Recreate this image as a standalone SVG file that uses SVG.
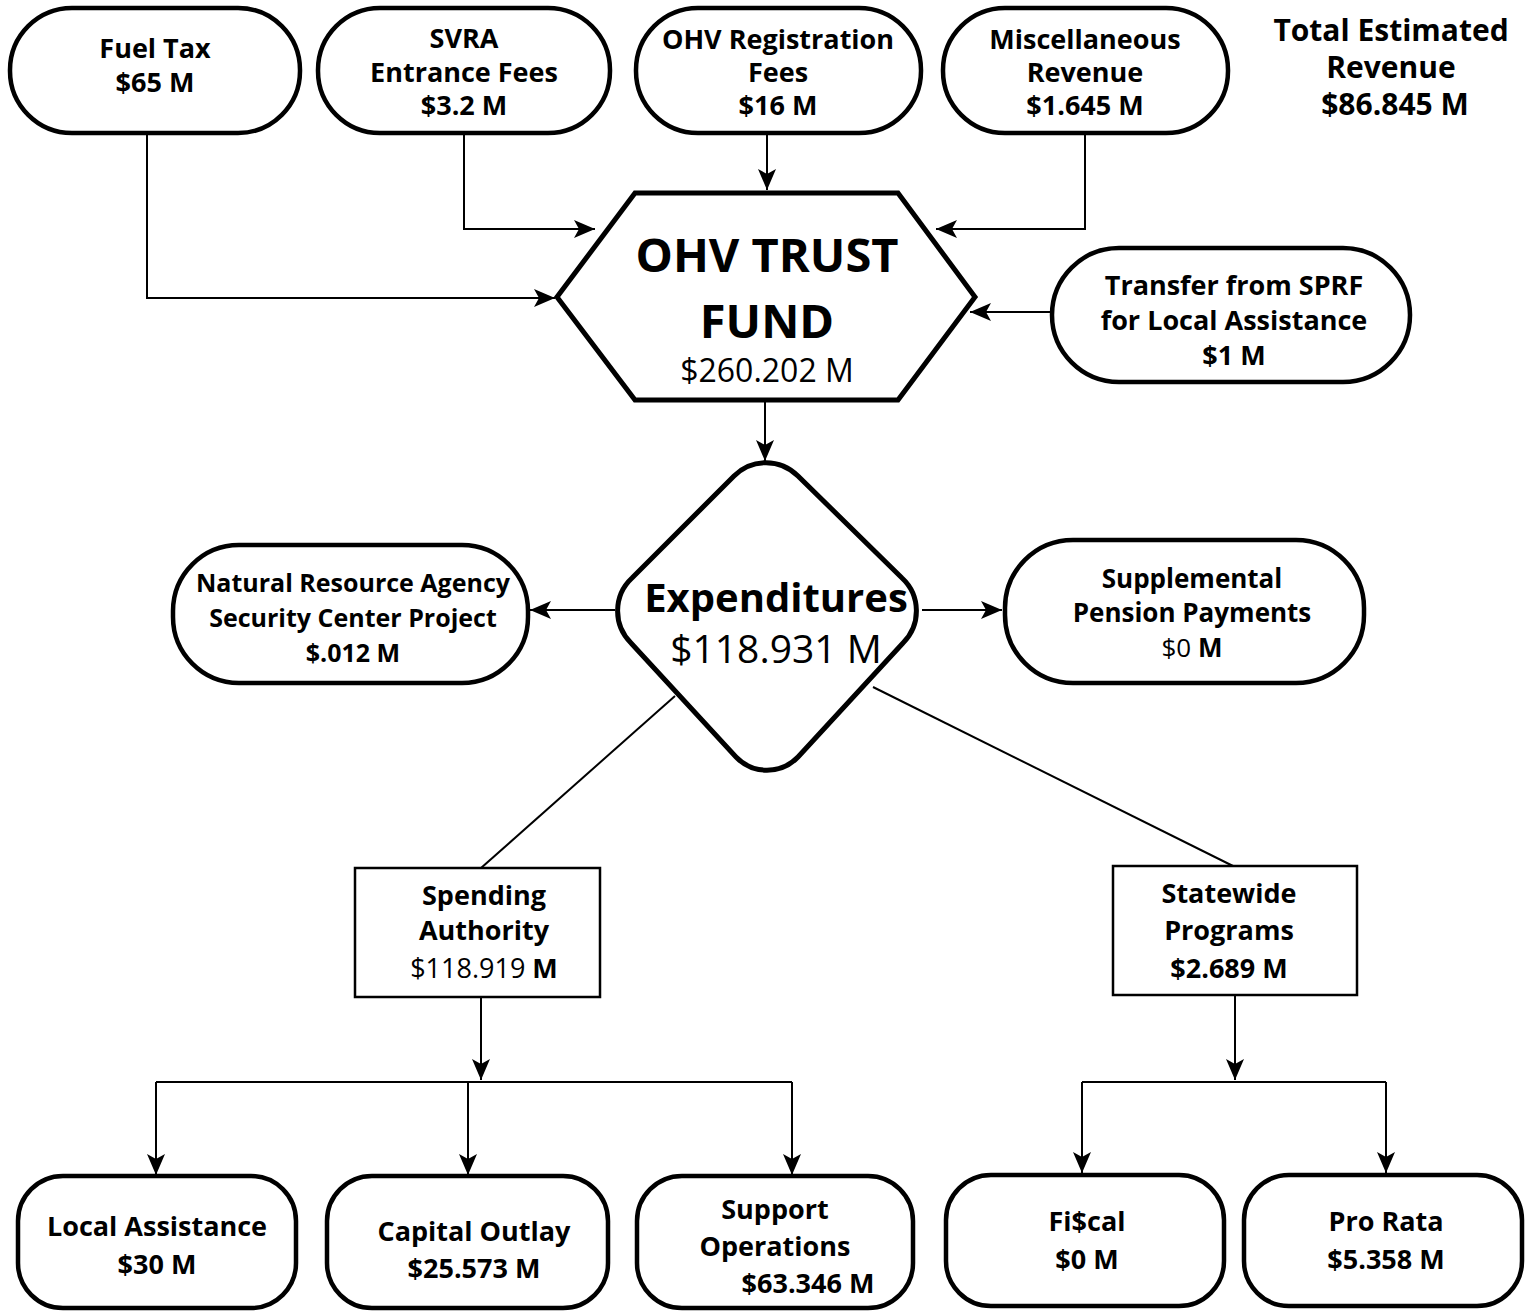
<svg xmlns="http://www.w3.org/2000/svg" width="1538" height="1314" viewBox="0 0 1538 1314">
<defs>
<marker id="arr" markerWidth="24" markerHeight="20" refX="21" refY="9" orient="auto" markerUnits="userSpaceOnUse">
<path d="M0,0 L21,9 L0,18 L5,9 Z" fill="#000"/>
</marker>
<style>
.pill{fill:#fff;stroke:#000;stroke-width:4.5}
.box{fill:#fff;stroke:#000;stroke-width:2.5}
.c{fill:none;stroke:#000;stroke-width:2}
.a{marker-end:url(#arr)}
text{font-family:"Open Sans","Noto Sans","Liberation Sans",sans-serif;text-anchor:middle;fill:#000}
.b{font-weight:700;font-size:27px}
.r{font-weight:400}
</style>
</defs>
<rect width="1538" height="1314" fill="#fff"/>
<g id="connectors">
<polyline class="c a" points="147,133 147,298 555,298"/>
<polyline class="c a" points="464,133 464,229 595,229"/>
<polyline class="c a" points="767,133 767,190"/>
<polyline class="c a" points="1085,133 1085,229 936,229"/>
<polyline class="c a" points="1052,312 970,312"/>
<polyline class="c a" points="765,400 765,461"/>
<polyline class="c a" points="615,610 530,610"/>
<polyline class="c a" points="922,610 1002,610"/>
<line class="c" x1="675" y1="696" x2="481" y2="868"/>
<line class="c" x1="873" y1="687" x2="1233" y2="866"/>
<polyline class="c a" points="481,997 481,1080"/>
<polyline class="c" points="156,1082 792,1082"/>
<polyline class="c a" points="156,1082 156,1175"/>
<polyline class="c a" points="468,1082 468,1175"/>
<polyline class="c a" points="792,1082 792,1175"/>
<polyline class="c a" points="1235,995 1235,1080"/>
<polyline class="c" points="1082,1082 1386,1082"/>
<polyline class="c a" points="1082,1082 1082,1173"/>
<polyline class="c a" points="1386,1082 1386,1173"/>
</g>
<g id="fuel-tax">
<rect class="pill" x="10" y="8" width="290" height="125" rx="62" ry="62"/>
<text class="b" x="155" y="58">Fuel Tax</text>
<text class="b" x="155" y="92">$65 M</text>
</g>
<g id="svra">
<rect class="pill" x="318" y="8" width="292" height="125" rx="62" ry="62"/>
<text class="b" x="464" y="48">SVRA</text>
<text class="b" x="464" y="82">Entrance Fees</text>
<text class="b" x="464" y="115">$3.2 M</text>
</g>
<g id="ohv-reg">
<rect class="pill" x="636" y="8" width="285" height="125" rx="62" ry="62"/>
<text class="b" x="778" y="49">OHV Registration</text>
<text class="b" x="778" y="82">Fees</text>
<text class="b" x="778" y="115">$16 M</text>
</g>
<g id="misc">
<rect class="pill" x="943" y="8" width="285" height="125" rx="62" ry="62"/>
<text class="b" x="1085" y="49">Miscellaneous</text>
<text class="b" x="1085" y="82">Revenue</text>
<text class="b" x="1085" y="115">$1.645 M</text>
</g>
<g id="total">
<text class="b" x="1391" y="41" style="font-size:30px">Total Estimated</text>
<text class="b" x="1391" y="78" style="font-size:30px">Revenue</text>
<text class="b" x="1395" y="115" style="font-size:30px">$86.845 M</text>
</g>
<g id="trust-fund">
<polygon points="635,193 898,193 975,297 898,400 635,400 557,297" fill="#fff" stroke="#000" stroke-width="5"/>
<text class="b" x="767" y="272" style="font-size:47px">OHV TRUST</text>
<text class="b" x="767" y="338" style="font-size:47px">FUND</text>
<text class="r" x="767" y="382" style="font-size:32px">$260.202 M</text>
</g>
<g id="transfer">
<rect class="pill" x="1052" y="248" width="358" height="134" rx="67" ry="67"/>
<text class="b" x="1234" y="295">Transfer from SPRF</text>
<text class="b" x="1234" y="330">for Local Assistance</text>
<text class="b" x="1234" y="365">$1 M</text>
</g>
<g id="expenditures">
<path d="M734,476 A45,45 0 0 1 798,476 L902,578 A45,45 0 0 1 903,643 L798,757 A43,43 0 0 1 736,757 L631,643 A45,45 0 0 1 632,578 Z" fill="#fff" stroke="#000" stroke-width="5"/>
<text class="b" x="776" y="612" style="font-size:40px">Expenditures</text>
<text class="r" x="776" y="663" style="font-size:39px">$118.931 M</text>
</g>
<g id="nra">
<rect class="pill" x="173" y="545" width="355" height="138" rx="66" ry="66"/>
<text class="b" x="353" y="592" style="font-size:25px">Natural Resource Agency</text>
<text class="b" x="353" y="627" style="font-size:25px">Security Center Project</text>
<text class="b" x="353" y="662" style="font-size:25px">$.012 M</text>
</g>
<g id="pension">
<rect class="pill" x="1005" y="540" width="359" height="143" rx="68" ry="68"/>
<text class="b" x="1192" y="588" style="font-size:26px">Supplemental</text>
<text class="b" x="1192" y="622" style="font-size:26px">Pension Payments</text>
<text class="b" x="1192" y="657" style="font-size:26px"><tspan class="r">$0</tspan> M</text>
</g>
<g id="spending">
<rect class="box" x="355" y="868" width="245" height="129"/>
<text class="b" x="484" y="905">Spending</text>
<text class="b" x="484" y="940">Authority</text>
<text class="b" x="484" y="978"><tspan class="r">$118.919</tspan> M</text>
</g>
<g id="statewide">
<rect class="box" x="1113" y="866" width="244" height="129"/>
<text class="b" x="1229" y="903">Statewide</text>
<text class="b" x="1229" y="940">Programs</text>
<text class="b" x="1229" y="978">$2.689 M</text>
</g>
<g id="local">
<rect class="pill" x="18" y="1176" width="278" height="132" rx="45" ry="45"/>
<text class="b" x="157" y="1236">Local Assistance</text>
<text class="b" x="157" y="1274">$30 M</text>
</g>
<g id="capital">
<rect class="pill" x="327" y="1176" width="281" height="132" rx="45" ry="45"/>
<text class="b" x="474" y="1241">Capital Outlay</text>
<text class="b" x="474" y="1278">$25.573 M</text>
</g>
<g id="support">
<rect class="pill" x="637" y="1176" width="276" height="132" rx="45" ry="45"/>
<text class="b" x="775" y="1219">Support</text>
<text class="b" x="775" y="1256">Operations</text>
<text class="b" x="808" y="1293">$63.346 M</text>
</g>
<g id="fiscal">
<rect class="pill" x="946" y="1175" width="278" height="131" rx="45" ry="45"/>
<text class="b" x="1087" y="1231">Fi$cal</text>
<text class="b" x="1087" y="1269">$0 M</text>
</g>
<g id="pro-rata">
<rect class="pill" x="1244" y="1175" width="278" height="131" rx="45" ry="45"/>
<text class="b" x="1386" y="1231">Pro Rata</text>
<text class="b" x="1386" y="1269">$5.358 M</text>
</g>
</svg>
